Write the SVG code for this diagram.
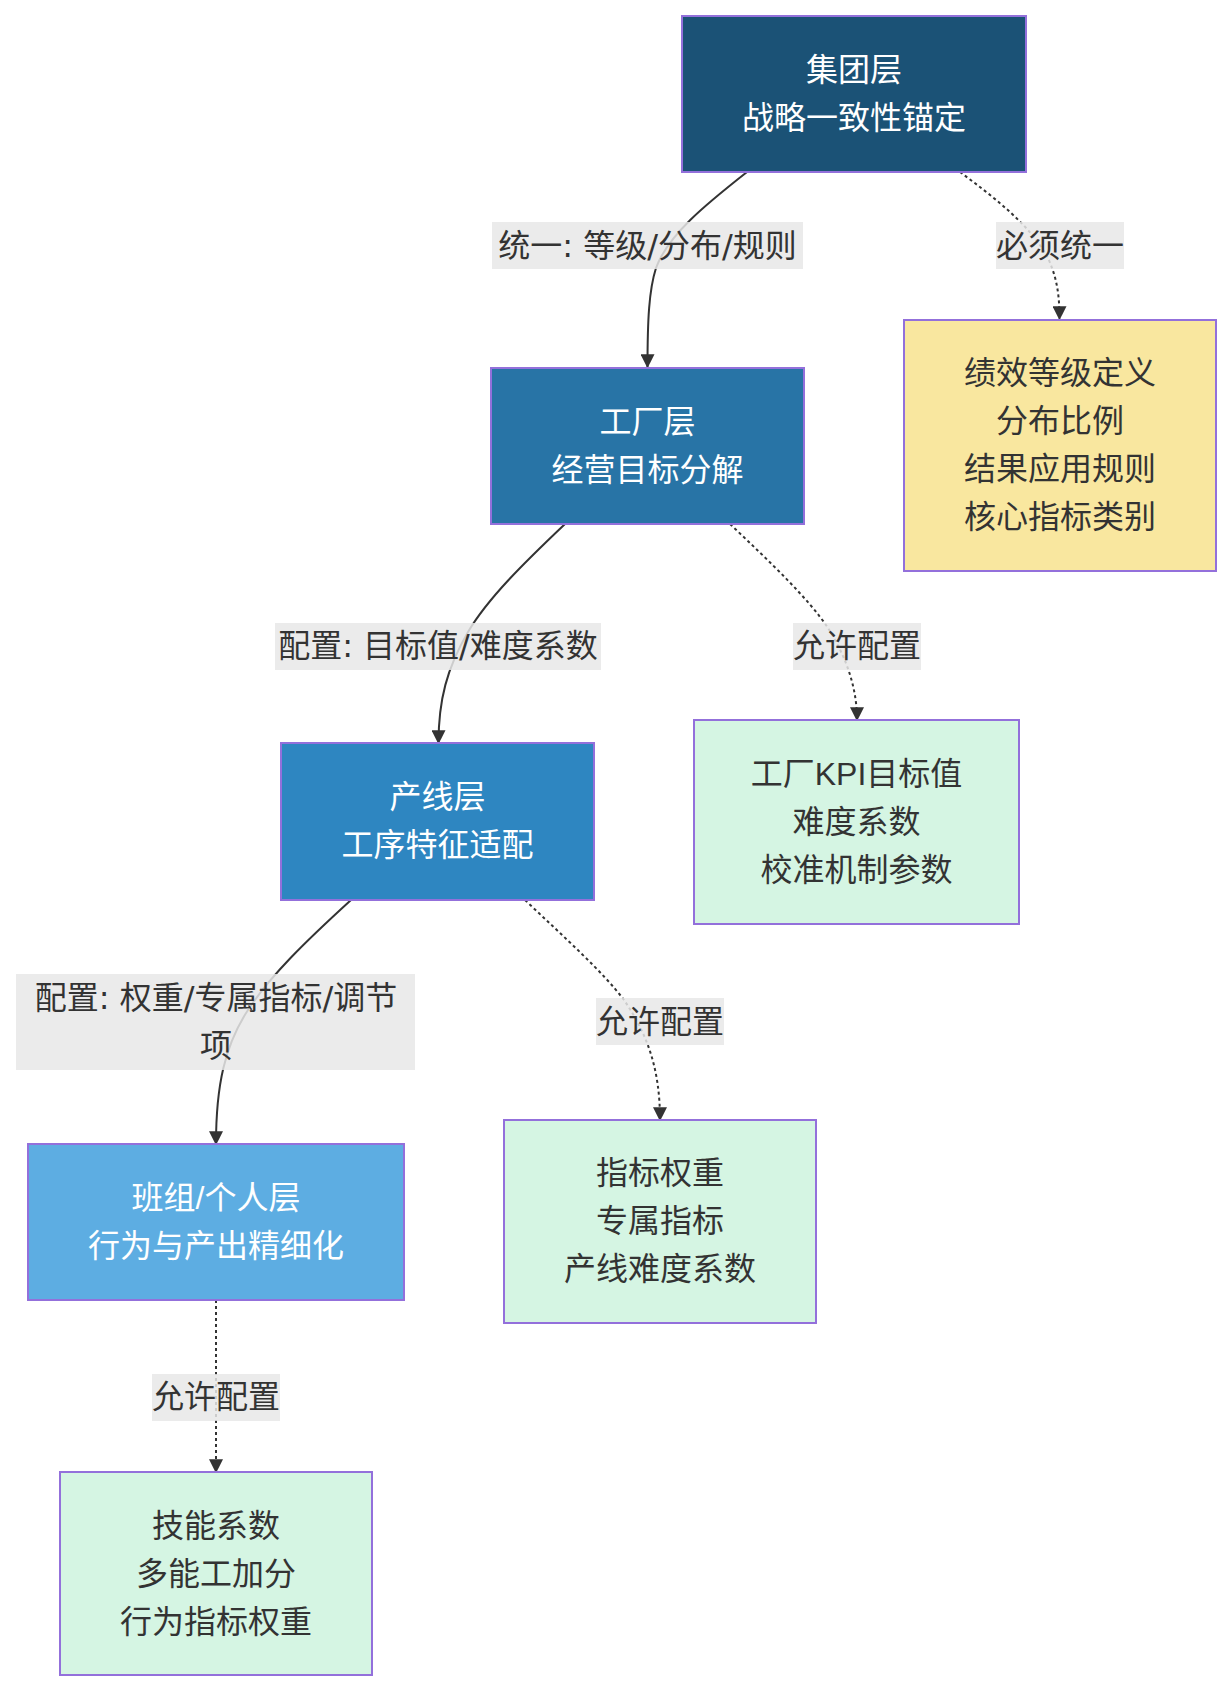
<svg xmlns="http://www.w3.org/2000/svg" width="1231" height="1692" viewBox="0 0 1231 1692">
<style>
text{font-family:"Liberation Sans","Noto Sans CJK SC",sans-serif;font-size:32px;text-anchor:middle;dominant-baseline:central}
.node rect{stroke:#9370DB;stroke-width:2}
.dark text{fill:#ffffff}
.light text{fill:#333333}
.edge{fill:none;stroke:#333333;stroke-width:2}
.dot{stroke-dasharray:3 3}
.lbl rect{fill:#e8e8e8;fill-opacity:0.85}
.lbl text{fill:#333333;font-family:"DejaVu Sans","Noto Sans CJK SC",sans-serif}
</style>
<defs>
<marker id="arr" viewBox="0 0 12 12" refX="11" refY="6" markerWidth="14" markerHeight="14" markerUnits="userSpaceOnUse" orient="auto">
<path d="M0,0 L12,6 L0,12 z" fill="#333333"/>
</marker>
</defs>
<rect width="1231" height="1692" fill="#ffffff"/>
<g id="connectors">
<path class="edge" d="M747,172 C705,205 668,235 656,268 C649,290 647.5,320 647.5,367" marker-end="url(#arr)"/>
<path class="edge dot" d="M960,172 C995,198 1030,225 1048,258 C1057,278 1059.5,295 1059.5,319" marker-end="url(#arr)"/>
<path class="edge" d="M565,524 C525,562 488,598 468,632 C447,668 438.5,700 438.5,743" marker-end="url(#arr)"/>
<path class="edge dot" d="M730,524 C770,562 808,598 828,628 C848,660 857,690 857,720" marker-end="url(#arr)"/>
<path class="edge" d="M351,900 C305,942 270,976 248,1010 C225,1045 216,1085 216,1144" marker-end="url(#arr)"/>
<path class="edge dot" d="M525,900 C565,938 603,972 624,1000 C648,1035 660,1070 660,1120" marker-end="url(#arr)"/>
<path class="edge dot" d="M216,1300 L216,1472" marker-end="url(#arr)"/>
</g>
<g id="edge-labels">
<g class="lbl"><rect x="492" y="222" width="311" height="47"/><text x="647.5" y="246">统一: 等级/分布/规则</text></g>
<g class="lbl"><rect x="996" y="222" width="128" height="47"/><text x="1060" y="246">必须统一</text></g>
<g class="lbl"><rect x="275" y="623" width="326" height="47"/><text x="438" y="646">配置: 目标值/难度系数</text></g>
<g class="lbl"><rect x="793" y="623" width="128" height="47"/><text x="857" y="646">允许配置</text></g>
<g class="lbl"><rect x="16" y="974" width="399" height="96"/><text x="216" y="998">配置: 权重/专属指标/调节</text><text x="216" y="1046">项</text></g>
<g class="lbl"><rect x="596" y="998" width="128" height="47"/><text x="660" y="1022">允许配置</text></g>
<g class="lbl"><rect x="152" y="1374" width="128" height="47"/><text x="216" y="1397">允许配置</text></g>
</g>
<g id="group" class="node dark"><rect x="682" y="16" width="344" height="156" fill="#1B5276"/><text x="854" y="70">集团层</text><text x="854" y="118">战略一致性锚定</text></g>
<g id="factory" class="node dark"><rect x="491" y="368" width="313" height="156" fill="#2874A6"/><text x="647.5" y="422">工厂层</text><text x="647.5" y="470">经营目标分解</text></g>
<g id="line" class="node dark"><rect x="281" y="743" width="313" height="157" fill="#2E86C1"/><text x="437.5" y="797">产线层</text><text x="437.5" y="845">工序特征适配</text></g>
<g id="team" class="node dark"><rect x="28" y="1144" width="376" height="156" fill="#5DADE2"/><text x="216" y="1198">班组/个人层</text><text x="216" y="1246">行为与产出精细化</text></g>
<g id="unified" class="node light"><rect x="904" y="320" width="312" height="251" fill="#F9E79F"/><text x="1060" y="373">绩效等级定义</text><text x="1060" y="421">分布比例</text><text x="1060" y="469">结果应用规则</text><text x="1060" y="517">核心指标类别</text></g>
<g id="factory-cfg" class="node light"><rect x="694" y="720" width="325" height="204" fill="#D5F5E3"/><text x="856.5" y="774">工厂KPI目标值</text><text x="856.5" y="822">难度系数</text><text x="856.5" y="870">校准机制参数</text></g>
<g id="line-cfg" class="node light"><rect x="504" y="1120" width="312" height="203" fill="#D5F5E3"/><text x="660" y="1173">指标权重</text><text x="660" y="1221">专属指标</text><text x="660" y="1269">产线难度系数</text></g>
<g id="team-cfg" class="node light"><rect x="60" y="1472" width="312" height="203" fill="#D5F5E3"/><text x="216" y="1526">技能系数</text><text x="216" y="1574">多能工加分</text><text x="216" y="1622">行为指标权重</text></g>
</svg>
